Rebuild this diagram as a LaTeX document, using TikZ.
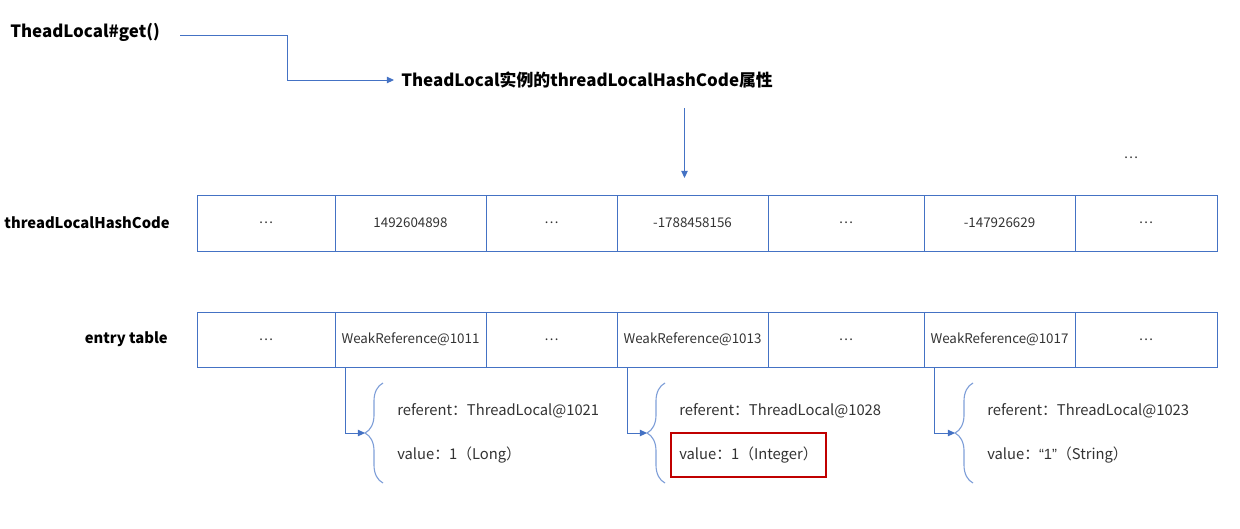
\documentclass[tikz,border=0pt]{standalone}
\usepackage{fontspec}
\setmainfont{Noto Sans CJK SC}
\newfontfamily\latinfont{Liberation Sans}
\usetikzlibrary{arrows.meta,positioning,calc,decorations.pathreplacing,fit}
\definecolor{lineblue}{HTML}{4472C4}
\definecolor{braceblue}{HTML}{7F9FD8}
\definecolor{boxred}{HTML}{C00000}
\definecolor{txtgray}{HTML}{333333}
\newcommand{\pxu}{0.025cm}

\begin{document}
\begin{tikzpicture}[x=\pxu, y=-\pxu,
    cell/.style={rectangle, draw=lineblue, line width=0.7pt, outer sep=0pt, inner xsep=1pt, minimum height=56*\pxu, text=txtgray, font=\fontsize{9.5}{12}\selectfont},
    title/.style={font=\bfseries\fontsize{12}{14}\selectfont, inner sep=0pt},
    lbl/.style={font=\bfseries\fontsize{10.5}{13}\selectfont, inner sep=0pt},
    txt/.style={font=\fontsize{10.5}{12}\selectfont, text=txtgray, inner sep=0pt, anchor=west},
    link/.style={draw=lineblue, line width=0.7pt, -{Triangle[length=5pt, width=4.5pt]}},
    brc/.style={draw=braceblue, line width=0.8pt, decorate, decoration={brace, amplitude=0.45cm}}
]
    \useasboundingbox (0,0) rectangle (1240,528);

    % Call chain
    \node[title, anchor=west] (get) at (10,32) {TheadLocal\#get()};
    \node[title, anchor=west] (attr) at (401,80) {TheadLocal实例的threadLocalHashCode属性};
    \draw[link] ($(get.east)+(20,3)$) -- ++(107,0) |- ($(attr.west)+(-7,0)$);

    % Hash code row
    \node[cell, minimum width=138*\pxu, anchor=north west] (hc1) at (197,195) {…};
    \node[cell, minimum width=151*\pxu, right=0cm of hc1] (hc2) {1492604898};
    \node[cell, minimum width=131*\pxu, right=0cm of hc2] (hc3) {…};
    \node[cell, minimum width=151*\pxu, right=0cm of hc3] (hc4) {-1788458156};
    \node[cell, minimum width=156*\pxu, right=0cm of hc4] (hc5) {…};
    \node[cell, minimum width=151*\pxu, right=0cm of hc5] (hc6) {-147926629};
    \node[cell, minimum width=142*\pxu, right=0cm of hc6] (hc7) {…};
    \node[lbl, anchor=east] (hclbl) at ($(hc1.west)+(-27,0)$) {threadLocalHashCode};
    \node[cell, draw=none] (more) at (1131,158) {…};
    \draw[link] ($(hc4.north)+(-8,-87)$) -- ($(hc4.north)+(-8,-17)$);

    % Entry table row
    \node[cell, minimum width=138*\pxu, minimum height=55*\pxu, anchor=north west] (en1) at (197,312) {…};
    \node[cell, minimum width=151*\pxu, minimum height=55*\pxu, right=0cm of en1] (en2) {WeakReference@1011};
    \node[cell, minimum width=131*\pxu, minimum height=55*\pxu, right=0cm of en2] (en3) {…};
    \node[cell, minimum width=151*\pxu, minimum height=55*\pxu, right=0cm of en3] (en4) {WeakReference@1013};
    \node[cell, minimum width=156*\pxu, minimum height=55*\pxu, right=0cm of en4] (en5) {…};
    \node[cell, minimum width=151*\pxu, minimum height=55*\pxu, right=0cm of en5] (en6) {WeakReference@1017};
    \node[cell, minimum width=142*\pxu, minimum height=55*\pxu, right=0cm of en6] (en7) {…};
    \node[lbl, anchor=east] (enlbl) at ($(en1.west)+(-29,0)$) {entry table};

    % Entry 1011
    \node[txt] (ref1) at ($(en2.south west)+(62,44)$) {referent：ThreadLocal@1021};
    \node[txt] (val1) at ($(en2.south west)+(62,88)$) {value：1（Long）};
    \draw[brc] ($(en2.south west)+(48,116)$) -- ($(en2.south west)+(48,16)$);
    \coordinate (tip1) at ($(en2.south west)+(30,66)$);
    \draw[link] ($(en2.south west)+(10,0)$) |- (tip1);

    % Entry 1013
    \node[txt] (ref2) at ($(en4.south west)+(62,44)$) {referent：ThreadLocal@1028};
    \node[txt] (val2) at ($(en4.south west)+(62,88)$) {value：1（Integer）};
    \draw[brc] ($(en4.south west)+(48,116)$) -- ($(en4.south west)+(48,16)$);
    \coordinate (tip2) at ($(en4.south west)+(30,66)$);
    \draw[link] ($(en4.south west)+(10,0)$) |- (tip2);
    \node[draw=boxred, line width=1.5pt, fit=(val2), inner xsep=0.2cm, inner ysep=0.34cm] (hit) {};

    % Entry 1017
    \node[txt] (ref3) at ($(en6.south west)+(63,44)$) {referent：ThreadLocal@1023};
    \node[txt] (val3) at ($(en6.south west)+(63,88)$) {value：{\latinfont “1”}（String）};
    \draw[brc] ($(en6.south west)+(49,116)$) -- ($(en6.south west)+(49,16)$);
    \coordinate (tip3) at ($(en6.south west)+(31,66)$);
    \draw[link] ($(en6.south west)+(10,0)$) |- (tip3);
\end{tikzpicture}
\end{document}
